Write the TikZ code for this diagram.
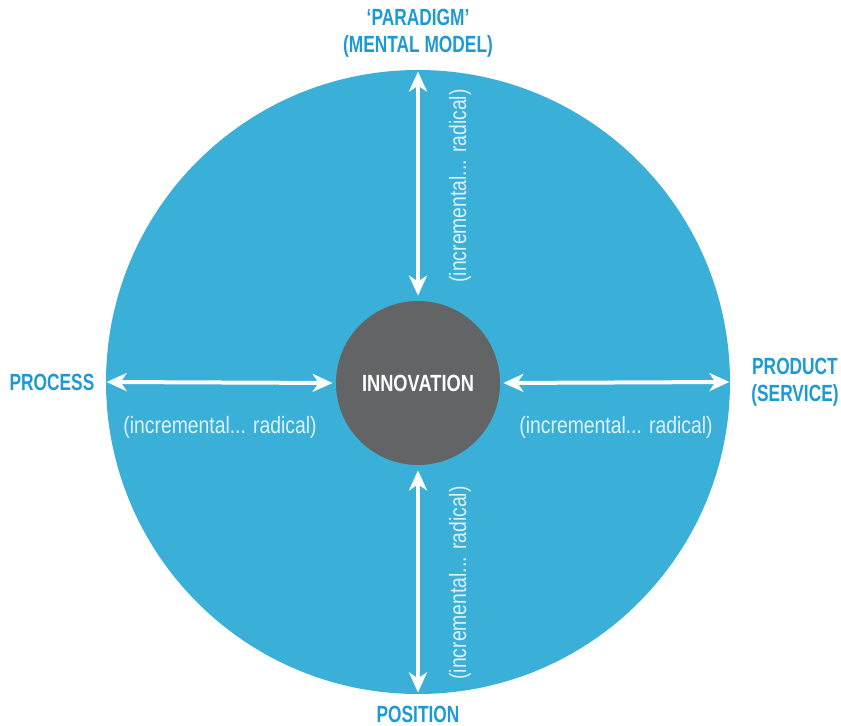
\documentclass[tikz,border=0pt]{standalone}
\usepackage{fontspec}
\setmainfont{Liberation Sans}
\newfontfamily\condfont[FakeStretch=0.78]{Liberation Sans}
\newfontfamily\headfont[FakeStretch=0.74]{Liberation Sans}
\newfontfamily\spanfont[FakeStretch=0.82]{Liberation Sans}
\usetikzlibrary{arrows.meta}

\definecolor{fieldblue}{HTML}{3AB0D9}
\definecolor{labelblue}{HTML}{1D9AD3}
\definecolor{coregray}{HTML}{636466}
\definecolor{softwhite}{HTML}{DDF1F8}

\tikzset{
  axis/.style={draw=white, line width=2pt,
    {Stealth[length=10pt,width=9pt,inset=3pt]}-{Stealth[length=10pt,width=9pt,inset=3pt]}},
  spanlabel/.style={font=\spanfont\fontsize{11.8}{13}\selectfont, text=softwhite, inner sep=0pt},
  title/.style={font=\headfont\bfseries\fontsize{11.7}{13.5}\selectfont, text=labelblue, align=center, inner sep=0pt},
}

\begin{document}
\begin{tikzpicture}[x=0.5pt,y=-0.5pt]

\useasboundingbox (0,0) rectangle (841,726);

% the two circles
\node[circle, fill=fieldblue, minimum size=312pt, inner sep=0pt] (field) at (418,382) {};
\node[circle, fill=coregray, minimum size=82pt, inner sep=0pt,
  font=\condfont\bfseries\fontsize{11.7}{13.5}\selectfont, text=white] (innov) at (418,383) {INNOVATION};

% four axes
\draw[axis, shorten <=2.5pt, shorten >=1pt] (innov.north) -- (field.north);
\draw[axis, shorten <=2.5pt, shorten >=1pt] (innov.south) -- (field.south);
\draw[axis, shorten <=1.5pt, shorten >=0.5pt] (innov.west) -- (field.west);
\draw[axis, shorten <=1.5pt, shorten >=0.5pt] (innov.east) -- (field.east);

% ranges
\node[spanlabel, rotate=90] (rtop) at (460,186) {(incremental... radical)};
\node[spanlabel, rotate=90] (rbot) at (460,583) {(incremental... radical)};
\node[spanlabel] (rleft) at (220,427) {(incremental... radical)};
\node[spanlabel] (rright) at (616,427) {(incremental... radical)};

% outer labels
\node[title] (paradigm) at (418,33) {‘PARADIGM’\\(MENTAL MODEL)};
\node[title] (process) at (52,382) {PROCESS};
\node[title] (product) at (795,382) {PRODUCT\\(SERVICE)};
\node[title] (position) at (418,714) {POSITION};

\end{tikzpicture}
\end{document}
